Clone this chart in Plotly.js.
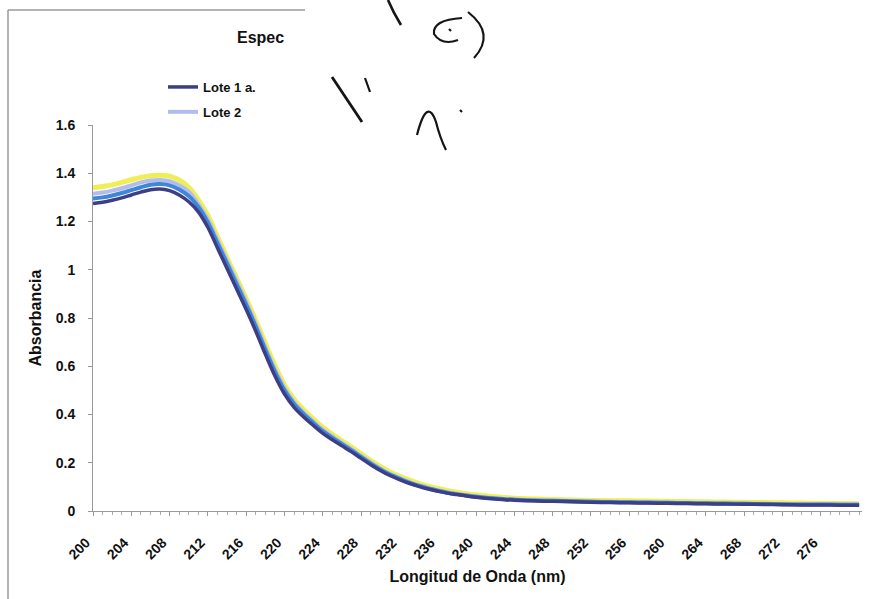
<!DOCTYPE html>
<html><head><meta charset="utf-8">
<script src="https://cdn.plot.ly/plotly-3.0.1.min.js"></script>
<style>html,body{margin:0;padding:0;background:#fff}</style>
</head><body><div id="chart" style="width:871px;height:599px"></div>
<script>
const wavelength = [200,201,202,203,204,205,206,207,208,209,210,211,212,213,214,215,216,217,218,219,220,221,222,223,224,225,226,227,228,229,230,231,232,233,234,235,236,237,238,239,240,241,242,243,244,246,248,250,252,254,256,258,260,262,264,266,268,270,272,274,276,278,280];
const lote1 = [1.275,1.280,1.288,1.298,1.310,1.322,1.332,1.335,1.328,1.310,1.282,
  1.240,1.175,1.090,1.005,0.920,0.835,0.745,0.650,0.560,0.485,
  0.430,0.390,0.355,0.322,0.295,0.270,0.245,0.218,0.192,0.168,
  0.147,0.130,0.115,0.102,0.091,0.082,0.074,0.068,0.062,0.057,
  0.053,0.050,0.047,0.045,
  0.042,0.040,0.038,0.036,0.035,0.034,0.033,0.032,0.031,0.030,0.029,0.028,0.027,0.026,0.025,0.025,0.024,0.024];
const serieAzul = [1.295,1.300,1.308,1.318,1.330,1.342,1.352,1.355,1.350,1.333,1.306,
  1.260,1.195,1.110,1.025,0.940,0.855,0.764,0.668,0.577,0.500,
  0.443,0.401,0.365,0.331,0.303,0.277,0.251,0.224,0.197,0.172,
  0.151,0.134,0.118,0.105,0.094,0.084,0.076,0.070,0.064,0.059,
  0.055,0.052,0.049,0.047,
  0.044,0.042,0.040,0.038,0.037,0.036,0.035,0.034,0.033,0.032,0.031,0.030,0.029,0.028,0.027,0.027,0.026,0.026];
const lote2 = [1.315,1.320,1.328,1.338,1.350,1.362,1.370,1.372,1.367,1.350,1.323,
  1.272,1.207,1.122,1.037,0.952,0.866,0.775,0.679,0.587,0.509,
  0.451,0.408,0.371,0.336,0.308,0.282,0.256,0.228,0.201,0.176,
  0.154,0.137,0.121,0.107,0.096,0.086,0.078,0.071,0.065,0.060,
  0.056,0.053,0.050,0.048,
  0.045,0.043,0.041,0.039,0.038,0.037,0.036,0.035,0.034,0.033,0.032,0.031,0.030,0.029,0.028,0.028,0.027,0.027];
const serieAmarilla = [1.340,1.345,1.352,1.362,1.373,1.383,1.390,1.392,1.388,1.372,1.342,
  1.290,1.225,1.137,1.050,0.965,0.880,0.790,0.695,0.603,0.522,
  0.463,0.420,0.382,0.347,0.318,0.291,0.265,0.237,0.210,0.185,
  0.163,0.145,0.129,0.115,0.103,0.093,0.085,0.078,0.072,0.067,
  0.063,0.059,0.056,0.053,
  0.050,0.048,0.046,0.044,0.043,0.042,0.041,0.040,0.039,0.038,0.037,0.036,0.035,0.034,0.033,0.032,0.031,0.030];
const xTicks = [200,204,208,212,216,220,224,228,232,236,240,244,248,252,256,260,264,268,272,276];
const yTicks = [0,0.2,0.4,0.6,0.8,1,1.2,1.4,1.6];

const FONT = 'Liberation Sans, Arial, sans-serif';
const W = 871, H = 599, ML = 93, MR = 9, MT = 125, MB = 88;
const PW = W - ML - MR, PH = H - MT - MB;
function px(x){ return (x - ML) / PW; }
function py(y){ return (H - MB - y) / PH; }
function path(cmds){
  return cmds.map(c => c[0] + c.slice(1).map((v,i)=> i%2===0 ? px(v) : py(v)).join(',')).join(' ');
}

const traces = [
  {x: wavelength, y: serieAmarilla, name: 'Serie 4', showlegend: false, legendgroup: 'g4', mode: 'lines',
   line: {color: '#eeee55', width: 5, shape: 'spline'}},
  {x: wavelength, y: lote2, name: 'Lote 2', legendgroup: 'g2', legendrank: 2, mode: 'lines',
   line: {color: '#b4bcee', width: 4, shape: 'spline'}},
  {x: wavelength, y: serieAzul, name: 'Serie 3', showlegend: false, legendgroup: 'g3', mode: 'lines',
   line: {color: '#3f86d6', width: 4, shape: 'spline'}},
  {x: wavelength, y: lote1, name: 'Lote 1 a.', legendgroup: 'g1', legendrank: 1, mode: 'lines',
   line: {color: '#3c3f86', width: 3.5, shape: 'spline'}}
];

const ink = {color: '#151515', width: 2.2};
const shapes = [
  {type:'line', xref:'paper', yref:'paper', x0:px(8), y0:py(10), x1:px(305), y1:py(10), line:{color:'#9a9a9a', width:1.5}},
  {type:'line', xref:'paper', yref:'paper', x0:px(8), y0:py(10), x1:px(8), y1:py(599), line:{color:'#9a9a9a', width:1.5}},
  {type:'path', xref:'paper', yref:'paper', path: path([['M',388,0],['Q',393,12,401,25]]), line: {color:'#151515', width:2.6}},
  {type:'path', xref:'paper', yref:'paper', path: path([['M',462,18],['Q',432,20,434,34],['Q',442,46,458,40]]), line: ink},
  {type:'path', xref:'paper', yref:'paper', path: path([['M',449,29],['L',451,31]]), line: ink},
  {type:'path', xref:'paper', yref:'paper', path: path([['M',468,12],['Q',496,34,474,58]]), line: ink},
  {type:'path', xref:'paper', yref:'paper', path: path([['M',332,77],['L',362,122]]), line: {color:'#151515', width:2.8}},
  {type:'path', xref:'paper', yref:'paper', path: path([['M',365,78],['L',370,92]]), line: ink},
  {type:'path', xref:'paper', yref:'paper', path: path([['M',417,135],['Q',427,96,436,122],['Q',440,138,446,150]]), line: ink},
  {type:'path', xref:'paper', yref:'paper', path: path([['M',460,110],['L',462,112]]), line: ink}
];

const layout = {
  width: W, height: H,
  margin: {l: ML, r: MR, t: MT, b: MB, pad: 0},
  paper_bgcolor: '#ffffff', plot_bgcolor: '#ffffff',
  font: {family: FONT, size: 12, color: '#111', weight: 'bold'},
  title: {text: 'Espec', x: 237/W, xanchor: 'left', xref: 'container', y: 1 - 37/H, yanchor: 'middle', yref: 'container',
          font: {family: FONT, size: 16, weight: 'bold', color: '#111'}},
  showlegend: true,
  legend: {x: px(163), y: py(72), xanchor: 'left', yanchor: 'top', bgcolor: 'rgba(0,0,0,0)',
           font: {family: FONT, size: 13, weight: 'bold', color: '#111'}, traceorder: 'grouped', tracegroupgap: 5},
  xaxis: {range: [200, 280.3], tickmode: 'array', tickvals: xTicks, ticktext: xTicks.map(String), tickangle: -45,
          ticks: 'outside', ticklen: 4, tickcolor: '#999', showline: true, linecolor: '#999', linewidth: 1,
          showgrid: false, zeroline: false, ticklabelstandoff: 13, ticklabelshift: -7,
          minor: {dtick: 1, tick0: 200, ticks: 'outside', ticklen: 3, tickcolor: '#aaa', showgrid: false},
          tickfont: {family: FONT, size: 14, weight: 'bold', color: '#111'},
          title: {text: 'Longitud de Onda (nm)', standoff: 9, font: {family: FONT, size: 16, weight: 'bold', color: '#111'}}},
  yaxis: {range: [0, 1.6], tickmode: 'array', tickvals: yTicks, ticks: 'outside', ticklen: 4, tickcolor: '#999',
          showline: true, linecolor: '#999', linewidth: 1, showgrid: false, zeroline: false, ticklabelstandoff: 10,
          tickfont: {family: FONT, size: 14, weight: 'bold', color: '#111'},
          title: {text: 'Absorbancia', standoff: 10, font: {family: FONT, size: 16, weight: 'bold', color: '#111'}}},
  shapes: shapes
};

Plotly.newPlot('chart', traces, layout, {displayModeBar: false, staticPlot: true});
</script>
</body></html>
